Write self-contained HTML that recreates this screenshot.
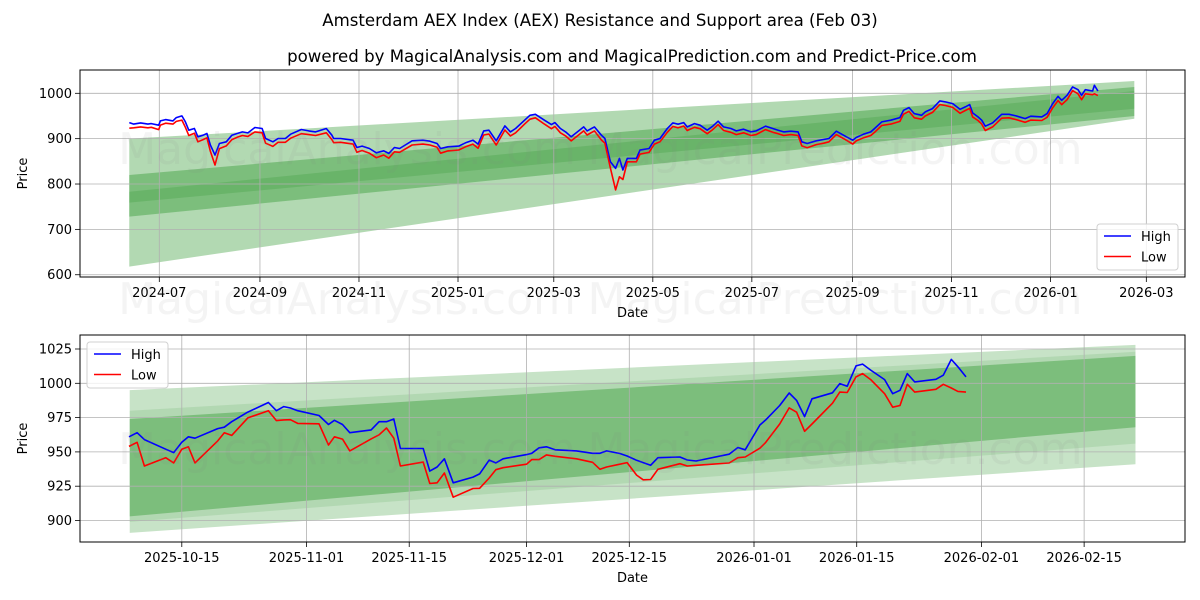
<!DOCTYPE html>
<html><head><meta charset="utf-8"><style>
html,body{margin:0;padding:0;background:#fff;}
svg{display:block;font-family:"DejaVu Sans","Liberation Sans",sans-serif;}
</style></head><body>
<svg id="chart" width="1200" height="600" viewBox="0 0 1200 600" xmlns="http://www.w3.org/2000/svg">
<rect width="1200" height="600" fill="#fff"/>
<text x="600" y="26" font-size="16.6" text-anchor="middle">Amsterdam AEX Index (AEX) Resistance and Support area (Feb 03)</text>
<text x="632" y="62" font-size="16.6" text-anchor="middle">powered by MagicalAnalysis.com and MagicalPrediction.com and Predict-Price.com</text>
<defs>
<clipPath id="clipTop"><rect x="80" y="70" width="1105" height="207"/></clipPath>
<clipPath id="clipBot"><rect x="80" y="335" width="1105" height="207"/></clipPath>
</defs>
<g id="top"></g>
<g id="bot"></g>
<g font-size="44" fill="#808080" fill-opacity="0.09">
<text x="347" y="164" text-anchor="middle">MagicalAnalysis.com</text>
<text x="835" y="164" text-anchor="middle">MagicalPrediction.com</text>
<text x="347" y="314" text-anchor="middle">MagicalAnalysis.com</text>
<text x="835" y="314" text-anchor="middle">MagicalPrediction.com</text>
<text x="347" y="464" text-anchor="middle">MagicalAnalysis.com</text>
<text x="835" y="464" text-anchor="middle">MagicalPrediction.com</text>
</g>
</svg>
<script>
// ---------- TOP CHART DATA (days since 2024-07-01) ----------
const topDay = [-18.5,-15.8,-11.5,-7.0,-4.9,-0.4,0.7,3.9,8.4,10.5,13.9,16.1,18.2,21.6,23.8,27.0,29.3,31.5,34.3,37.0,41.3,44.7,47.9,51.2,54.6,58.9,63.3,65.5,70.0,73.2,77.7,80.9,87.5,92.0,96.3,102.9,106.3,107.4,111.7,119.4,121.7,124.9,129.4,133.7,138.2,141.4,144.8,148.0,155.7,162.4,166.7,171.1,173.3,177.8,184.4,188.7,193.2,196.4,199.8,203.0,207.5,212.9,216.3,219.5,225.0,228.3,231.7,237.2,241.5,243.7,247.1,250.3,253.7,261.4,263.5,268.0,272.3,274.5,277.9,281.1,283.4,285.6,
288.3,293.9,296.1,301.7,305.0,308.4,312.9,316.3,319.6,323.0,325.2,329.7,333.1,337.5,340.9,344.2,347.6,352.1,355.4,359.9,364.4,367.7,373.4,377.9,381.2,384.6,389.0,393.5,395.8,399.1,404.7,409.2,412.5,417.0,422.6,427.1,429.3,433.8,438.3,440.6,445.0,450.6,456.2,458.4,461.8,465.1,469.6,471.8,476.3,480.8,484.2,488.7,493.2,496.5,499.2,501.0,504.3,506.6,508.8,513.3,518.9,523.4,527.8,533.4,536.8,543.6,546.9,550.3,553.6,555.9,559.2,562.6,565.9,568.1,570.4,574.9,576.0,578.2];
const topHigh = [935.5,932,934.8,932,933.3,929.7,939.2,942.1,939.2,946.5,950.2,937,918.7,922.3,904,907.7,911.4,885.7,863.7,889.4,893,907.7,911.4,915,912.8,924.5,922.3,900.4,893,900.4,900.4,909.9,920.1,917.2,915,922.3,907.7,900.4,900.4,896.7,880.6,883.5,878.4,868.9,873.3,867.4,880.6,878.4,895.2,896.7,894.5,889.4,878.4,882.1,883.5,890.8,896.7,888,917.2,918.7,895.2,928.2,915,922.3,940.7,951.6,953.8,940.7,931.1,935.5,922.3,915,904,926,917.2,926,907.7,900.4,849,834.4,856.4,830.8,
856.4,856.4,874.7,878.4,896.7,900.3,922.3,934.8,931.9,935.5,926,933.3,929.7,918.7,927.5,938.5,926,922.3,917.2,920.9,915,917.2,927.5,922.3,918.7,915,916.5,915,893,889.4,895.2,898.2,900.3,916.5,905.5,896.7,902.6,909.9,915,922.3,937,940.7,946.5,962.6,968.5,955.3,951.6,959,966.3,983.2,981,977.3,964.8,970,975.1,956.8,948,940.7,927.5,934.8,953.8,953.8,950.2,944.3,949.5,948,955.3,977.3,993.4,984.6,995.6,1014,1008,995.6,1008,1005.1,1017.6,1005.1];
const topLow = [923,924,926,924,925,920,930,934,932,938,941,925,907,912,893,898,902,872,842,878,884,898,903,907,905,915,913,890,883,892,892,901,911,909,907,913,898,891,892,888,870,874,868,858,864,857,871,870,886,888,886,881,868,873,875,882,888,879,908,910,886,919,906,913,932,943,946,932,922,927,913,906,895,917,908,917,897,890,835,787,816,810,
849,849,866,870,888,893,914,927,924,928,918,925,922,911,920,931,918,914,909,913,907,909,920,914,911,907,909,907,884,880,887,890,893,909,898,888,895,902,907,914,929,932,938,954,960,946,943,950,958,975,973,969,956,962,967,948,940,932,918,926,945,946,942,936,941,940,947,968,984,975,986,1006,999,986,999,997,999,995];
const topTickLabels = ["2024-07","2024-09","2024-11","2025-01","2025-03","2025-05","2025-07","2025-09","2025-11","2026-01","2026-03"];
const topYTicks = [600,700,800,900,1000];
const topBandDays = [-18.5, 600.6];
const topBandLow1 = [618, 944], topBandHigh1 = [900, 1027];
const topBandLow2 = [728, 950], topBandHigh2 = [820, 1014];
const topBandLow3 = [759, 966], topBandHigh3 = [783, 1005];

// ---------- BOTTOM CHART DATA (days since 2025-10-15) ----------
const botDay = [-7.2,-6.1,-5.1,-2.2,-1.1,0,0.9,1.8,4.9,5.8,6.8,9.0,11.8,12.9,13.9,14.8,15.8,18.7,20.0,20.8,21.9,22.9,25.8,26.9,27.9,28.9,29.8,32.9,33.8,34.8,35.8,37.0,39.7,40.6,41.9,42.8,43.8,47.0,47.7,48.7,49.7,50.9,53.8,56.0,57.0,57.9,
59.7,60.7,62.0,62.9,63.9,64.9,67.9,68.9,70.1,74.6,75.8,76.8,78.8,79.6,81.5,82.8,83.8,84.9,85.9,88.7,89.7,90.7,91.9,92.8,93.9,95.8,96.9,97.9,98.9,99.9,102.8,103.8,104.9,105.8,106.9];
const botHigh = [961,964,959,952,949.5,957,961,960,967,968,972,979,986,980,983,982,980,976.5,970,973,970,964,966,972,972,974,952.5,952.5,936,939,945,927.5,931.6,934,944,942,945,948,949,953,953.7,951.5,950.7,949,949,950.7,
948.8,947,943.9,942.2,940.2,945.8,946.3,944.1,943.4,948.3,953.2,951.5,969.6,973.3,983.8,992.9,987.5,975.7,988.7,993.1,999.8,997.8,1012.7,1014,1009.6,1002.7,992.4,994.9,1007.1,1001,1002.9,1005.9,1017.4,1012,1004.7];
const botLow = [954,957,939.7,945.8,942,952,953.7,942,958,964,962,974.8,980,972.8,973.3,973.5,970.8,970.5,955,961,959.3,950.7,959.5,962.5,967.4,960,939.7,942.6,927,927.5,934.6,917,923.3,923.5,931,937,938.5,941,944.4,944.4,947.8,946.8,945,942.4,937.3,939,
941,942.2,933.1,929.7,929.9,937.3,941.4,939.7,940.2,941.9,945.8,946.3,952.7,956.9,970.3,982.1,978.9,965,970.3,985.5,993.6,993.3,1004.7,1007.1,1002.7,992.4,982.6,983.8,999.3,993.6,995.6,999.3,996.6,994.1,993.6];
const botTickLabels = ["2025-10-15","2025-11-01","2025-11-15","2025-12-01","2025-12-15","2026-01-01","2026-01-15","2026-02-01","2026-02-15"];
const botYTicks = [900,925,950,975,1000,1025];
const botBandDays = [-7.1, 130];
const botBandLow1 = [891, 941], botBandHigh1 = [995, 1028];
const botBandLow2 = [899, 956], botBandHigh2 = [980, 1023];
const botBandLow3 = [903, 968], botBandHigh3 = [974, 1020];

const NS = "http://www.w3.org/2000/svg";
function mk(tag, attrs, parent){
  const e = document.createElementNS(NS, tag);
  for (const k in attrs) e.setAttribute(k, attrs[k]);
  parent.appendChild(e);
  return e;
}
function dayOf(label, originStr){
  const p = label.split("-").map(Number);
  const o = originStr.split("-").map(Number);
  return (Date.UTC(p[0],p[1]-1,p[2]||1) - Date.UTC(o[0],o[1]-1,o[2]))/86400000;
}

function drawChart(g, cfg){
  const {x0,x1,y0,y1,xf,yf,clip} = cfg;
  const bg = mk("g", {"clip-path":"url(#"+clip+")"}, g);
  
  
  cfg.bands.forEach((b, i) => {
    const [lo, hi, op] = b;
    const d0 = cfg.bandDays[0], d1 = cfg.bandDays[1];
    const pts = [[xf(d0), yf(hi[0])],[xf(d1), yf(hi[1])],[xf(d1), yf(lo[1])],[xf(d0), yf(lo[0])]];
    const poly = mk("polygon", {points: pts.map(p=>p.join(",")).join(" "), fill:"#008000", "fill-opacity":op}, bg);
    
    
  });
  const gg = mk("g", {stroke:"#b0b0b0", "stroke-width":"0.8"}, g);
  
  
  cfg.xTickLabels.forEach(l => {
    const x = xf(dayOf(l, cfg.origin));
    mk("line", {x1:x, x2:x, y1:y0, y2:y1}, gg);
  });
  cfg.yTicks.forEach(v => {
    const y = yf(v);
    mk("line", {x1:x0, x2:x1, y1:y, y2:y}, gg);
  });
  const sg = mk("g", {"clip-path":"url(#"+clip+")", fill:"none", "stroke-width":"1.6", "stroke-linejoin":"round"}, g);
  const n = Math.min(cfg.days.length, cfg.high.length, cfg.low.length);
  let dh = "", dl = "";
  for (let i=0;i<n;i++){
    dh += (i?"L":"M") + xf(cfg.days[i]).toFixed(1) + "," + yf(cfg.high[i]).toFixed(1);
    dl += (i?"L":"M") + xf(cfg.days[i]).toFixed(1) + "," + yf(cfg.low[i]).toFixed(1);
  }
  const lh = mk("path", {d:dh, stroke:"#0000ff"}, sg);
  
  
  const ll = mk("path", {d:dl, stroke:"#ff0000"}, sg);
  
  
  const fr = mk("rect", {x:x0, y:y0, width:x1-x0, height:y1-y0, fill:"none", stroke:"#000", "stroke-width":"1"}, g);
  
  
  const tg = mk("g", {"font-size":"13", fill:"#000"}, g);
  
  
  cfg.xTickLabels.forEach(l => {
    const x = xf(dayOf(l, cfg.origin));
    mk("line", {x1:x, x2:x, y1:y1, y2:y1+5, stroke:"#000", "stroke-width":"0.8"}, tg);
    const t = mk("text", {x:x, y:y1+20, "text-anchor":"middle"}, tg);
    t.textContent = l;
    
    
  });
  cfg.yTicks.forEach(v => {
    const y = yf(v);
    mk("line", {x1:x0-5, x2:x0, y1:y, y2:y, stroke:"#000", "stroke-width":"0.8"}, tg);
    const t = mk("text", {x:x0-8, y:y+4.5, "text-anchor":"end"}, tg);
    t.textContent = v;
    
    
  });
  const xt = mk("text", {x:(x0+x1)/2, y:y1+40, "text-anchor":"middle", "font-size":"13"}, g);
  xt.textContent = "Date";
  
  
  const yc = (y0+y1)/2;
  const yt = mk("text", {x:27, y:yc, "text-anchor":"middle", "font-size":"13", transform:"rotate(-90 27 "+yc+")"}, g);
  yt.textContent = "Price";
  
  
  const [lx, ly] = cfg.legend;
  const lg = mk("g", {}, g);
  
  
  mk("rect", {x:lx, y:ly, width:81, height:46, rx:3, fill:"#fff", "fill-opacity":"0.8", stroke:"#d0d0d0"}, lg);
  [["High","#0000ff"],["Low","#ff0000"]].forEach((e, i) => {
    const yy = ly + 12 + i*20.5;
    const eg = mk("g", {}, lg);
    
    
    mk("line", {x1:lx+7, x2:lx+34, y1:yy, y2:yy, stroke:e[1], "stroke-width":"1.6"}, eg);
    const t = mk("text", {x:lx+44, y:yy+5, "font-size":"13"}, eg);
    t.textContent = e[0];
  });
}

drawChart(document.getElementById("top"), {
  x0:80, x1:1185, y0:70, y1:277, clip:"clipTop", origin:"2024-07-01",
  xf: d => 159.3 + d*1.6234,
  yf: p => 93.3 + (1000-p)*0.4536,
  days: topDay, high: topHigh, low: topLow,
  xTickLabels: topTickLabels, yTicks: topYTicks,
  bandDays: topBandDays,
  bands: [[topBandLow1, topBandHigh1, 0.3],[topBandLow2, topBandHigh2, 0.3],[topBandLow3, topBandHigh3, 0.15]],
  legend: [1097, 224]
});
drawChart(document.getElementById("bot"), {
  x0:80, x1:1185, y0:335, y1:542, clip:"clipBot", origin:"2025-10-15",
  xf: d => 181.8 + d*7.336,
  yf: p => 383.3 + (1000-p)*1.372,
  days: botDay, high: botHigh, low: botLow,
  xTickLabels: botTickLabels, yTicks: botYTicks,
  bandDays: botBandDays,
  bands: [[botBandLow1, botBandHigh1, 0.22],[botBandLow2, botBandHigh2, 0.1],[botBandLow3, botBandHigh3, 0.3]],
  legend: [87, 342]
});
</script>
</body></html>
